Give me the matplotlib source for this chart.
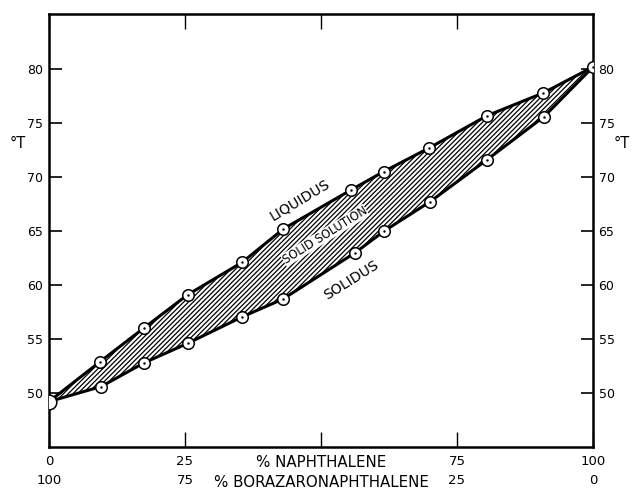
import numpy as np
import matplotlib
matplotlib.use("Agg")
import matplotlib.pyplot as plt

# % naphthalene and temperatures
comp_liq = [0, 9.4, 17.4, 25.5, 35.5, 43.1, 55.5, 61.5, 69.9, 80.6, 90.9, 100]
liquidus = [49.2, 52.9, 56.0, 59.1, 62.1, 65.2, 68.8, 70.5, 72.7, 75.7, 77.8, 80.2]
comp_sol = [0, 9.6, 17.5, 25.5, 35.5, 43.0, 56.3, 61.6, 70.0, 80.5, 91.0, 100]
solidus = [49.2, 50.6, 52.8, 54.6, 57.05, 58.7, 63.0, 65.0, 67.7, 71.6, 75.6, 80.2]

xticks = [0, 25, 50, 75, 100]
xlabels = ['0\n100', '25\n75', '% NAPHTHALENE\n% BORAZARONAPHTHALENE', '75\n25', '100\n0']
yticks = [50, 55, 60, 65, 70, 75, 80]

plt.rcParams['hatch.linewidth'] = 0.9

fig = plt.figure(figsize=(6.32, 4.92), dpi=100)
ax = fig.add_axes([0.0775, 0.0915, 0.8608, 0.88])

# hatched two-phase region
poly_x = np.concatenate([comp_liq, comp_sol[::-1]])
poly_y = np.concatenate([liquidus, solidus[::-1]])
ax.fill(poly_x, poly_y, facecolor='white', edgecolor='black', hatch='///////', linewidth=0)

ax.plot(comp_liq, liquidus, '-', color='black', linewidth=2.2)
ax.plot(comp_sol, solidus, '-', color='black', linewidth=2.2)

# data points (circle with a dot in the middle)
ax.plot(comp_liq[1:], liquidus[1:], 'o', ms=8.3, mfc='white', mec='black', mew=1.1, zorder=4)
ax.plot(comp_sol[1:-1], solidus[1:-1], 'o', ms=8.3, mfc='white', mec='black', mew=1.1, zorder=4)
ax.plot(comp_liq[1:], liquidus[1:], '.', ms=1.5, color='black', zorder=5)
ax.plot(comp_sol[1:-1], solidus[1:-1], '.', ms=1.5, color='black', zorder=5)
ax.plot(comp_liq[:1], liquidus[:1], 'o', ms=10.5, mfc='white', mec='black', mew=1.1, zorder=4)

ax.text(46.1, 67.9, 'LIQUIDUS', rotation=31, ha='center', va='center', fontsize=10.2)
ax.text(50.7, 64.6, 'SOLID SOLUTION', rotation=32, ha='center', va='center', fontsize=8.3,
        bbox=dict(facecolor='white', edgecolor='none', pad=0.2))
ax.text(55.5, 60.4, 'SOLIDUS', rotation=32, ha='center', va='center', fontsize=10.2)

ax.set_xlim(0, 100)
ax.set_ylim(45, 85.1)
ax.set_xticks(xticks, labels=xlabels)
ax.set_yticks(yticks)
ax.tick_params(axis='x', direction='in', length=11, width=1, top=True, labelsize=9.5, pad=6)
ax.tick_params(axis='y', direction='in', length=9, width=1.2, left=True, right=True,
               labelleft=True, labelright=True, labelsize=9, pad=4)
for lab in ax.get_xticklabels():
    lab.set_linespacing(1.6)
ax.get_xticklabels()[2].set_fontsize(10.8)
ax.get_xticklabels()[2].set_linespacing(1.4)
for s in ax.spines.values():
    s.set_linewidth(1.8)

ax.text(-0.057, 73.1, '°T', transform=ax.get_yaxis_transform(), ha='center', va='center', fontsize=10.5)
ax.text(1.053, 73.1, '°T', transform=ax.get_yaxis_transform(), ha='center', va='center', fontsize=10.5)

fig.savefig('out.png', dpi=100)
